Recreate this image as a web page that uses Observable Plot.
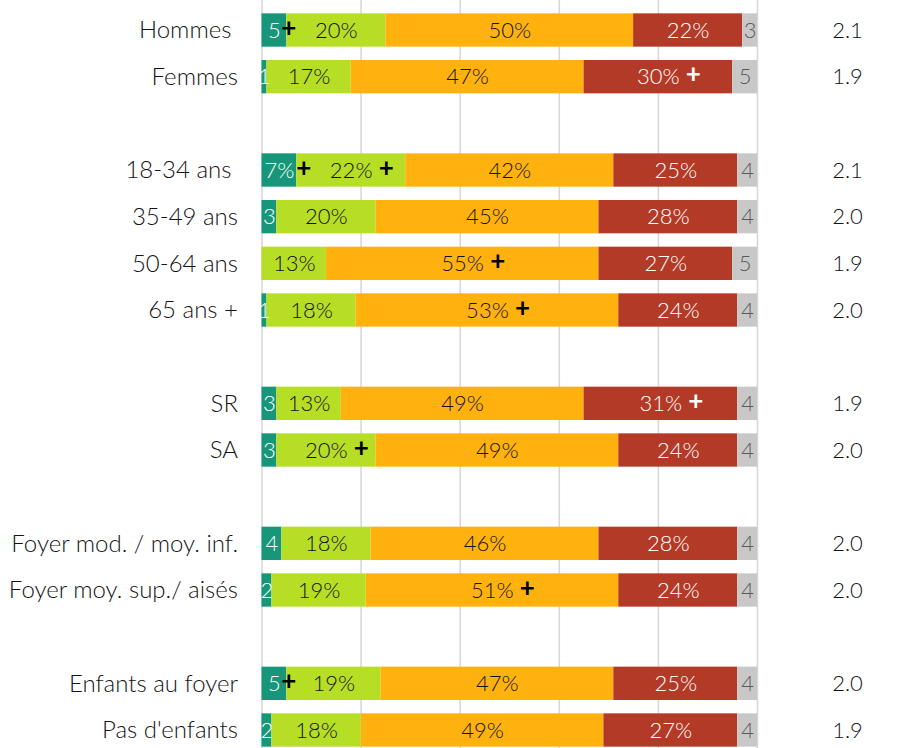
<!DOCTYPE html>
<html>
<head>
<meta charset="utf-8">
<script src="https://cdn.jsdelivr.net/npm/d3@7"></script>
<script src="https://cdn.jsdelivr.net/npm/@observablehq/plot@0.6"></script>
<style>
  body { margin: 0; background: #fff; }
  #chart svg text { font-family: Lato, "Open Sans", sans-serif; }
</style>
</head>
<body>
<div id="chart"></div>
<script>
// ---- Data ----
const categories = ["Hommes\u00A0", "Femmes", "18-34 ans\u00A0", "35-49 ans", "50-64 ans", "65 ans +",
  "SR", "SA", "Foyer mod. / moy. inf.", "Foyer moy. sup./ aisés", "Enfants au foyer", "Pas d'enfants"];
const groupEnds = ["Femmes", "65 ans +", "SA", "Foyer moy. sup./ aisés"];
const series = ["s1", "s2", "s3", "s4", "nsp"];
const seriesColors = ["#17967a", "#b6de25", "#ffb20d", "#b33a27", "#c8c8c8"];
const s1 = [5, 1, 7, 3, 0, 1, 3, 3, 4, 2, 5, 2];
const s2 = [20, 17, 22, 20, 13, 18, 13, 20, 18, 19, 19, 18];
const s3 = [50, 47, 42, 45, 55, 53, 49, 49, 46, 51, 47, 49];
const s4 = [22, 30, 25, 28, 27, 24, 31, 24, 28, 24, 25, 27];
const nsp = [3, 5, 4, 4, 5, 4, 4, 4, 4, 4, 4, 4];
const scores = ["2.1", "1.9", "2.1", "2.0", "1.9", "2.0", "1.9", "2.0", "2.0", "2.0", "2.0", "1.9"];
// significant differences ("+") : [category index, series]
const plusFlags = [[0, "s1"], [1, "s4"], [2, "s1"], [2, "s2"], [4, "s3"], [5, "s3"], [6, "s4"], [7, "s2"], [9, "s3"], [10, "s1"]];

// ---- Build tables ----
const valuesBySeries = {s1, s2, s3, s4, nsp};
const table = [];
categories.forEach((c, i) => {
  let acc = 0;
  series.forEach(s => {
    const v = valuesBySeries[s][i];
    const label = (s === "nsp" || v < 7) ? String(v) : v + "%";
    table.push({row: c, series: s, value: v, x1: acc, x2: acc + v, mid: acc + v / 2, label,
      plus: plusFlags.some(([ci, ss]) => ci === i && ss === s)});
    acc += v;
  });
});
const order = [];
categories.forEach(c => {
  order.push(c);
  if (groupEnds.includes(c)) order.push("gap" + order.length);
});
const scoreData = categories.map((c, i) => ({row: c, score: scores[i]}));

const labelColors = {s1: "#ffffff", s2: "#141414", s3: "#141414", s4: "#ffffff", nsp: "#5a5a5a"};
const plusDx = {1: 14.5, 2: 24.5, 3: 35};

const labelMarks = series.map(s =>
  Plot.text(table, {filter: d => d.series === s && d.value > 0, x: "mid", y: "row", text: "label",
    fill: labelColors[s], fontSize: 22, fontWeight: 300})
);
const plusMarks = table.filter(d => d.plus).map(d =>
  Plot.text([d], {x: "mid", y: "row", text: () => "+", dx: plusDx[d.label.length], dy: -2,
    fill: d.series === "s4" ? "#ffffff" : "#000000", fontSize: 26, fontWeight: "bold"})
);

const plot = Plot.plot({
  width: 903,
  height: 748,
  marginLeft: 261.5,
  marginRight: 146,
  marginTop: 0,
  marginBottom: 0,
  x: {domain: [0, 100], axis: null},
  y: {domain: order, range: [6.67, 753.33], paddingInner: 0.2857, paddingOuter: 0.1429, round: false, axis: null, label: null},
  color: {domain: series, range: seriesColors},
  style: {fontSize: "20px", color: "#1a1a1a", background: "#fff"},
  marks: [
    Plot.gridX([0, 20, 40, 60, 80, 100], {stroke: "#d6d6d6", strokeOpacity: 1, strokeWidth: 1.5}),
    Plot.barX(table, {x1: "x1", x2: "x2", y: "row", fill: "series"}),
    ...labelMarks,
    ...plusMarks,
    Plot.axisY({tickSize: 0, tickPadding: 24, fontSize: 24, fontWeight: 300, fill: "#141414", label: null,
      tickFormat: d => d.startsWith("gap") ? "" : d}),
    Plot.text(scoreData, {y: "row", text: "score", frameAnchor: "right", dx: 90, textAnchor: "middle",
      fontSize: 22, fontWeight: 300, fill: "#141414"})
  ]
});
document.getElementById("chart").append(plot);
</script>
</body>
</html>
